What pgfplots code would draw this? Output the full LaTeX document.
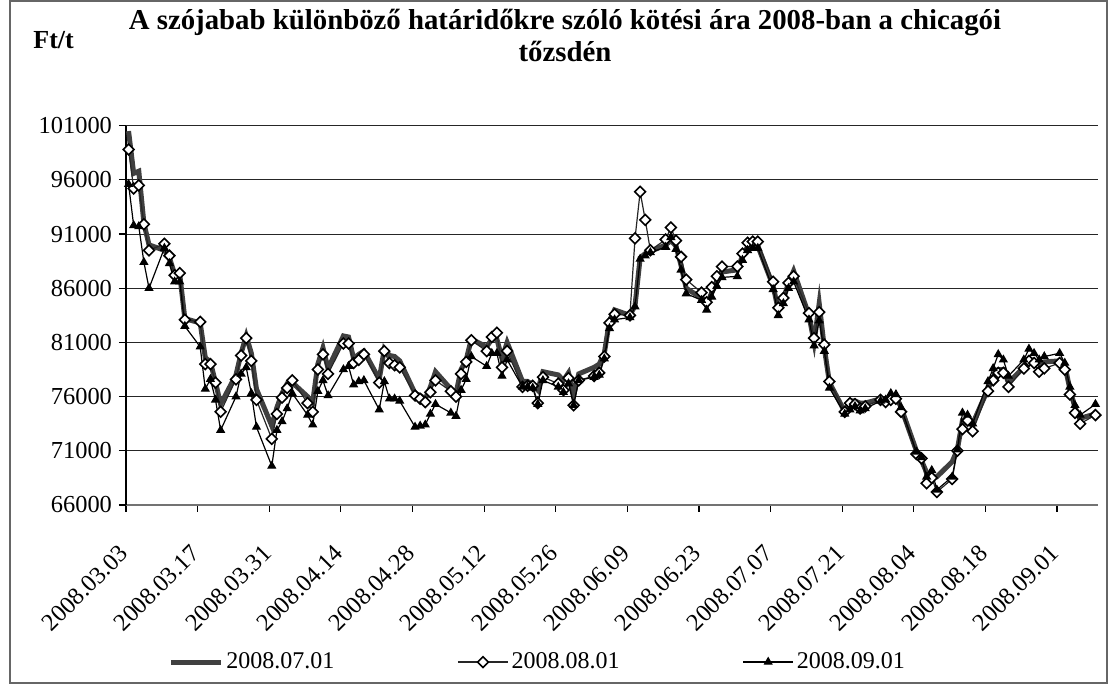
\documentclass[border=0pt]{standalone}
\usepackage{fontspec}
\setmainfont{Liberation Serif}
\usepackage{pgfplots}
\pgfplotsset{compat=1.18}
\usepackage{pgfplotstable}

% day = calendar days after 2008.03.03
\pgfplotstableread{
d v
0 100500
1 96600
2 96800
3 92000
4 90000
7 89500
8 88800
9 87300
10 87300
11 83200
14 82800
15 79600
16 79200
17 77300
18 75300
21 78000
22 80000
23 81600
24 80000
25 76700
28 73300
29 75000
30 76300
31 77200
32 77300
35 76000
36 75500
37 79000
38 80500
39 78600
42 81600
43 81500
44 79500
45 79900
46 80200
49 77600
50 80400
51 79800
52 79700
53 79300
56 76300
57 76100
58 75800
59 76900
60 78300
63 76700
64 76300
65 78500
66 79400
67 81300
70 80600
71 81300
72 81300
73 79500
74 81000
77 77400
78 77400
79 77100
80 76600
81 78300
84 78000
85 77500
86 78200
87 76200
88 78100
91 78700
92 79000
93 80000
94 83000
95 84000
98 83500
99 84400
100 88800
101 89200
102 89400
105 90000
106 90400
107 89900
108 88100
109 86000
112 85100
113 84400
114 85600
115 86600
116 87500
119 87700
120 89000
121 89800
122 89900
123 89900
126 86200
127 84000
128 85000
129 86500
130 87600
133 83500
134 81000
135 84600
136 80500
137 77300
140 74600
141 75600
142 75600
143 75400
144 75400
147 75800
148 75700
149 76000
150 76100
151 75000
154 71000
155 70100
156 69000
157 68600
158 68600
161 70000
162 71100
163 73800
164 73900
165 73500
168 76700
169 77800
170 78500
171 78500
172 77300
175 78700
176 79500
177 79300
178 79000
179 79200
182 79300
183 78900
184 76700
185 75000
186 74000
189 74400
}\serA

\pgfplotstableread{
d v
0 98800
1 95200
2 95500
3 91900
4 89500
7 90100
8 89000
9 87200
10 87400
11 83100
14 82900
15 79000
16 79000
17 77300
18 74600
21 77600
22 79800
23 81400
24 79300
25 75700
28 72100
29 74400
30 75900
31 76800
32 77500
35 75400
36 74600
37 78500
38 79900
39 78100
42 80900
43 80900
44 79100
45 79400
46 79900
49 77300
50 80200
51 79100
52 78900
53 78700
56 76100
57 75800
58 75500
59 76400
60 77500
63 76500
64 76000
65 78100
66 79200
67 81200
70 80200
71 81500
72 81900
73 78700
74 80200
77 76900
78 77000
79 77000
80 75400
81 77800
84 77200
85 76600
86 77700
87 75200
88 77500
91 77900
92 78200
93 79700
94 82800
95 83600
98 83500
99 90600
100 94900
101 92300
102 89500
105 90500
106 91600
107 90400
108 88900
109 86800
112 85600
113 84700
114 86100
115 87100
116 88000
119 88000
120 89200
121 90200
122 90300
123 90300
126 86600
127 84200
128 85100
129 86500
130 87100
133 83700
134 81400
135 83800
136 80800
137 77400
140 74600
141 75400
142 75300
143 74900
144 75100
147 75700
148 75500
149 75700
150 75800
151 74600
154 70700
155 70300
156 68000
157 68500
158 67200
161 68400
162 71000
163 73000
164 73800
165 72800
168 76500
169 77500
170 78200
171 78200
172 76900
175 78600
176 79300
177 79100
178 78300
179 78600
182 79100
183 78500
184 76200
185 74500
186 73500
189 74300
}\serB

\pgfplotstableread{
d v
0 95600
1 91800
2 91700
3 88400
4 86000
7 89700
8 88300
9 86600
10 86600
11 82500
14 80600
15 76700
16 77600
17 75700
18 72900
21 76000
22 78100
23 78700
24 76300
25 73200
28 69600
29 72900
30 73700
31 74900
32 76300
35 74300
36 73400
37 76500
38 77500
39 76100
42 78500
43 78800
44 77100
45 77400
46 77500
49 74800
50 77400
51 75800
52 75800
53 75600
56 73200
57 73300
58 73400
59 74400
60 75300
63 74500
64 74200
65 76600
66 77600
67 79700
70 78800
71 80000
72 80000
73 77900
74 79400
77 76900
78 76900
79 76800
80 75300
81 77500
84 76900
85 76400
86 77200
87 75200
88 77500
91 77800
92 78000
93 79500
94 82300
95 83100
98 83300
99 84300
100 88700
101 89000
102 89300
105 89800
106 90700
107 89600
108 87700
109 85500
112 84900
113 84000
114 85200
115 86200
116 87000
119 87100
120 88600
121 89500
122 89700
123 89700
126 85900
127 83500
128 84600
129 86000
130 86600
133 83100
134 80700
135 83000
136 80200
137 76800
140 74400
141 74800
142 75100
143 74700
144 74900
147 75600
148 75700
149 76300
150 76200
151 75000
154 70900
155 70400
156 68600
157 69200
158 67400
161 68600
162 71100
163 74500
164 74300
165 73500
168 77400
169 78600
170 79900
171 79400
172 77900
175 79400
176 80400
177 80000
178 79400
179 79700
182 80000
183 79100
184 76900
185 75200
186 74300
189 75300
}\serC

\begin{document}
\begin{tikzpicture}
\path (0,0) rectangle (554.5pt,342pt);
\draw[black!60, line width=0.8pt] (5pt,0.5pt) rectangle (553.5pt,341.5pt);
\node[font=\fontsize{14.4}{16}\selectfont\bfseries, align=center] at (282.5pt,324pt)
  {A szójabab különböző határidőkre szóló kötési ára 2008-ban a chicagói\\tőzsdén};
\node[font=\fontsize{13}{15}\selectfont\bfseries, anchor=west, inner sep=0pt] at (16.5pt,322pt) {Ft/t};
\begin{axis}[
  at={(63pt,89.5pt)}, anchor=south west,
  scale only axis, width=486pt, height=189.65pt,
  xmin=-0.5, xmax=189.5, ymin=66000, ymax=101000,
  clip=false,
  axis x line*=bottom, axis y line*=left,
  x axis line style={-, black!55, line width=1pt},
  y axis line style={-, black, line width=0.7pt},
  tick align=outside, major tick length=3.5pt,
  tick style={black, line width=0.6pt},
  xtick={-0.5,13.5,...,181.5},
  xticklabels={2008.03.03,2008.03.17,2008.03.31,2008.04.14,2008.04.28,2008.05.12,2008.05.26,2008.06.09,2008.06.23,2008.07.07,2008.07.21,2008.08.04,2008.08.18,2008.09.01},
  xticklabel style={xshift=-4pt, yshift=-14pt, rotate=45, anchor=north east, font=\fontsize{12.2}{14}\selectfont, inner sep=1pt},
  ytick={66000,71000,76000,81000,86000,91000,96000,101000},
  yticklabels={66000,71000,76000,81000,86000,91000,96000,101000},
  scaled y ticks=false,
  yticklabel style={font=\fontsize{12.2}{14}\selectfont},
  ymajorgrids, grid style={black!85, line width=0.5pt},
  legend columns=3,
  legend image code/.code={\draw[mark repeat=2, mark phase=2, #1] plot coordinates {(0pt,0pt) (12.5pt,0pt) (25pt,0pt)};},
  legend style={at={(0.0432,-0.414)}, anchor=west, draw=none, fill=none, inner sep=0pt,
    font=\fontsize{12}{14}\selectfont,
    nodes={inner xsep=1.5pt},
    /tikz/every even column/.append style={column sep=60pt}},
]
\addplot[color={rgb,255:red,64;green,64;blue,64}, line width=2.5pt, no marks] table[x=d, y=v] {\serA};
\addlegendentry{2008.07.01}
\addplot[color=black!85, line width=0.6pt, mark=square*, mark size=1.9pt,
  mark options={fill=white, draw=black, line width=0.8pt, rotate=45, solid}] table[x=d, y=v] {\serB};
\addlegendentry{2008.08.01}
\addplot[color=black, line width=0.6pt, mark=triangle*, mark size=2.1pt,
  mark options={fill=black, draw=black, solid}] table[x=d, y=v] {\serC};
\addlegendentry{2008.09.01}
\end{axis}
\end{tikzpicture}
\end{document}
